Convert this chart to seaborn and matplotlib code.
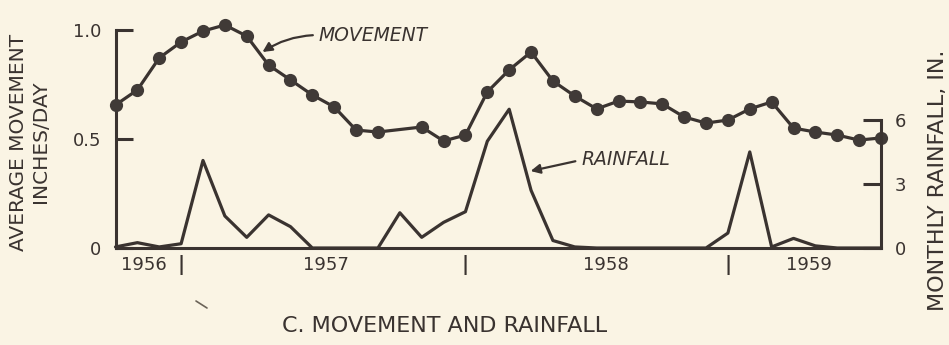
import pandas as pd
import matplotlib
matplotlib.use("Agg")
import matplotlib.pyplot as plt
import seaborn as sns
from matplotlib.lines import Line2D

# Monthly record, one entry per month starting early 1956
months = list(range(36))
movement = [0.656, 0.725, 0.872, 0.945, 0.995, 1.023, 0.972, 0.839, 0.771, 0.702,
            0.647, 0.541, 0.532, None, 0.555, 0.491, 0.518, 0.716, 0.817, 0.899,
            0.766, 0.697, 0.638, 0.674, 0.670, 0.661, 0.601, 0.573, 0.587, 0.638,
            0.670, 0.550, 0.532, 0.518, 0.495, 0.505]
rainfall = [0.05, 0.25, 0.05, 0.2, 4.1, 1.5, 0.5, 1.55, 1.0, 0.0,
            0.0, 0.0, 0.0, 1.65, 0.5, 1.2, 1.7, 5.0, 6.5, 2.7,
            0.35, 0.05, 0.0, 0.0, 0.0, 0.0, 0.0, 0.0, 0.7, 4.5,
            0.05, 0.45, 0.1, 0.0, 0.0, 0.0]
years = ["1956", "1957", "1958", "1959"]
year_label_pos = [1.3, 9.6, 22.4, 31.7]
year_breaks = [3, 16, 28]
movement_ticks = [0, 0.5, 1.0]
movement_tick_labels = ["0", "0.5", "1.0"]
rain_ticks = [0, 3, 6]

INK = "#3a3330"
PAPER = "#faf4e4"

sns.set_theme(style="white")
plt.rcParams["font.family"] = ["DejaVu Sans"]
plt.rcParams["text.color"] = INK
plt.rcParams["axes.labelcolor"] = INK
plt.rcParams["xtick.color"] = INK
plt.rcParams["ytick.color"] = INK

mov_df = pd.DataFrame({"month": months, "movement": movement}).dropna()
rain_df = pd.DataFrame({"month": months, "rainfall": rainfall})

fig = plt.figure(figsize=(9.49, 3.45), dpi=100, facecolor=PAPER)
ax = fig.add_axes([115.5 / 949, 97 / 345, (881 - 115.5) / 949, 218 / 345])
ax.set_facecolor("none")
ax2 = ax.twinx()
ax2.set_facecolor("none")

# rainfall trace on the right-hand scale
sns.lineplot(data=rain_df, x="month", y="rainfall", ax=ax2, color=INK,
             linewidth=2.3, clip_on=False, zorder=2)

# movement trace with dots
sns.lineplot(data=mov_df, x="month", y="movement", ax=ax, color=INK,
             linewidth=2.3, marker="o", markersize=9.5, markeredgewidth=0,
             markerfacecolor="#403a37", clip_on=False, zorder=3)

ax.set_xlim(0, 35)
ax.set_ylim(0, 1.0)
ax2.set_ylim(0, 10.21)

for a in (ax, ax2):
    a.set_xlabel("")
    a.set_ylabel("")
    a.spines["top"].set_visible(False)
    for s in ("left", "right", "bottom"):
        a.spines[s].set_color(INK)
        a.spines[s].set_linewidth(2.2)

ax.spines["right"].set_visible(False)
ax.spines["left"].set_bounds(0, 1.0)
ax2.spines["left"].set_visible(False)
ax2.spines["bottom"].set_visible(False)
ax2.spines["right"].set_bounds(0, 6)

ax.set_yticks(movement_ticks, labels=movement_tick_labels)
ax.tick_params(axis="y", direction="in", length=12, width=2.2, pad=10,
               labelsize=13, left=True, right=False)
ax2.set_yticks(rain_ticks, labels=[str(t) for t in rain_ticks])
ax2.tick_params(axis="y", direction="in", length=13, width=2.2, pad=10,
                labelsize=13, right=True, left=False)

# year names and the dividers between them
ax.set_xticks(year_label_pos, labels=years)
ax.set_xticks(year_breaks, labels=["|"] * len(year_breaks), minor=True)
ax.tick_params(axis="x", which="major", length=0, pad=6, labelsize=13,
               bottom=True)
ax.tick_params(axis="x", which="minor", length=0, pad=5, labelsize=14,
               bottom=True)
for lbl in ax.get_xticklabels(minor=True):
    lbl.set_fontweight("bold")

ax.annotate("MOVEMENT", xy=(6.72, 0.899), xytext=(9.3, 0.977),
            ha="left", va="center", fontsize=13.5, style="italic", color=INK,
            arrowprops=dict(arrowstyle="-|>", color=INK, lw=1.6,
                            mutation_scale=14, relpos=(0, 0.5),
                            shrinkA=2, shrinkB=0,
                            connectionstyle="arc3,rad=0.15"))
ax.annotate("RAINFALL", xy=(18.98, 0.353), xytext=(21.3, 0.404),
            ha="left", va="center", fontsize=13.5, style="italic", color=INK,
            arrowprops=dict(arrowstyle="-|>", color=INK, lw=1.6,
                            mutation_scale=14, relpos=(0, 0.5),
                            shrinkA=2, shrinkB=0))

fig.text(30 / 949, 1 - 142 / 345, "AVERAGE MOVEMENT\nINCHES/DAY",
         rotation=90, ha="center", va="center", multialignment="center",
         fontsize=14.5, linespacing=1.2, color=INK)
fig.text(938 / 949, 1 - 180 / 345, "MONTHLY RAINFALL, IN.",
         rotation=90, ha="center", va="center", fontsize=16, color=INK)
fig.text(445 / 949, 1 - 326 / 345, "C. MOVEMENT AND RAINFALL",
         ha="center", va="center", fontsize=16, color=INK)

fig.add_artist(Line2D([196 / 949, 207 / 949], [1 - 301 / 345, 1 - 308 / 345],
                      transform=fig.transFigure, color="#6b6358", lw=1.2))

fig.savefig("out.png", dpi=100, facecolor=PAPER)
